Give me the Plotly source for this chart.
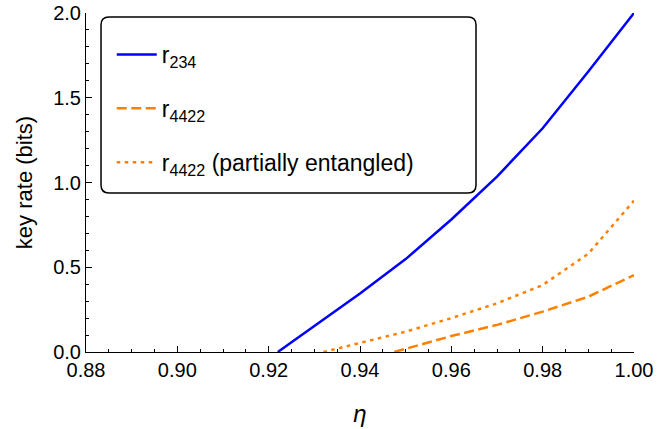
import plotly.graph_objects as go

# data
eta_234 = [0.922, 0.93, 0.94, 0.95, 0.96, 0.97, 0.98, 0.99, 1.00]
r_234 = [0.0, 0.155, 0.345, 0.548, 0.782, 1.035, 1.32, 1.655, 2.0]

eta_4422 = [0.9475, 0.95, 0.96, 0.97, 0.98, 0.99, 1.00]
r_4422 = [0.0, 0.018, 0.094, 0.16, 0.238, 0.326, 0.454]

eta_4422p = [0.932, 0.94, 0.95, 0.96, 0.97, 0.98, 0.99, 1.00]
r_4422p = [0.0, 0.055, 0.12, 0.2, 0.287, 0.395, 0.58, 0.893]

names = ["r<sub>234</sub>", "r<sub>4422</sub>", "r<sub>4422</sub> (partially entangled)"]

BLUE = "#0000FF"
ORANGE = "#FF8000"
FONT = "Liberation Sans, Arial, sans-serif"

fig = go.Figure()
fig.add_trace(go.Scatter(x=eta_234, y=r_234, mode="lines", name=names[0], legendgroup="a",
                         line=dict(color=BLUE, width=2.5)))
fig.add_trace(go.Scatter(x=eta_4422, y=r_4422, mode="lines", name=names[1], legendgroup="b",
                         line=dict(color=ORANGE, width=2.5, dash="10px,4.5px")))
fig.add_trace(go.Scatter(x=eta_4422p, y=r_4422p, mode="lines", name=names[2], legendgroup="c",
                         line=dict(color=ORANGE, width=2.5, dash="3.5px,4.5px")))

# rounded legend box (paper coords)
x0, x1, y0, y1 = 0.0274, 0.7117, 0.469, 0.9882
rx, ry = 0.0146, 0.0236
path = (f"M {x0+rx},{y1} L {x1-rx},{y1} Q {x1},{y1} {x1},{y1-ry} "
        f"L {x1},{y0+ry} Q {x1},{y0} {x1-rx},{y0} L {x0+rx},{y0} Q {x0},{y0} {x0},{y0+ry} "
        f"L {x0},{y1-ry} Q {x0},{y1} {x0+rx},{y1} Z")
fig.add_shape(type="path", path=path, xref="paper", yref="paper",
              line=dict(color="black", width=1.5), fillcolor="white", layer="above")

axis_common = dict(showline=True, linecolor="black", linewidth=1, mirror=False,
                   ticks="inside", ticklen=6, tickwidth=1, tickcolor="black",
                   showgrid=False, zeroline=False, automargin=False,
                   ticklabeloverflow="allow",
                   tickfont=dict(family=FONT, size=20, color="black"))

fig.update_xaxes(range=[0.88, 1.0], tick0=0.88, dtick=0.02, tickformat=".2f",
                 minor=dict(ticks="inside", ticklen=3, dtick=0.005, tickcolor="black", showgrid=False),
                 title=dict(text="<i>η</i>", font=dict(family=FONT, size=24, color="black"), standoff=25),
                 **axis_common)
fig.update_yaxes(range=[0, 2.0], tick0=0, dtick=0.5, tickformat=".1f",
                 minor=dict(ticks="inside", ticklen=3, dtick=0.1, tickcolor="black", showgrid=False),
                 title=dict(text="key rate (bits)", font=dict(family=FONT, size=22, color="black"), standoff=14),
                 **axis_common)

fig.update_layout(
    width=669, height=429,
    margin=dict(l=86, r=35, t=13, b=77),
    paper_bgcolor="white", plot_bgcolor="white",
    showlegend=True,
    legend=dict(x=0.047, y=0.941, xanchor="left", yanchor="top",
                bgcolor="rgba(0,0,0,0)", borderwidth=0,
                tracegroupgap=21, itemwidth=40,
                font=dict(family=FONT, size=23, color="black")),
)

# remove the default 8px page margin so the figure fills the window exactly
fig.write_html("out.html", config={"displayModeBar": False},
               post_script="document.body.style.margin='0';document.body.style.overflow='hidden';")
